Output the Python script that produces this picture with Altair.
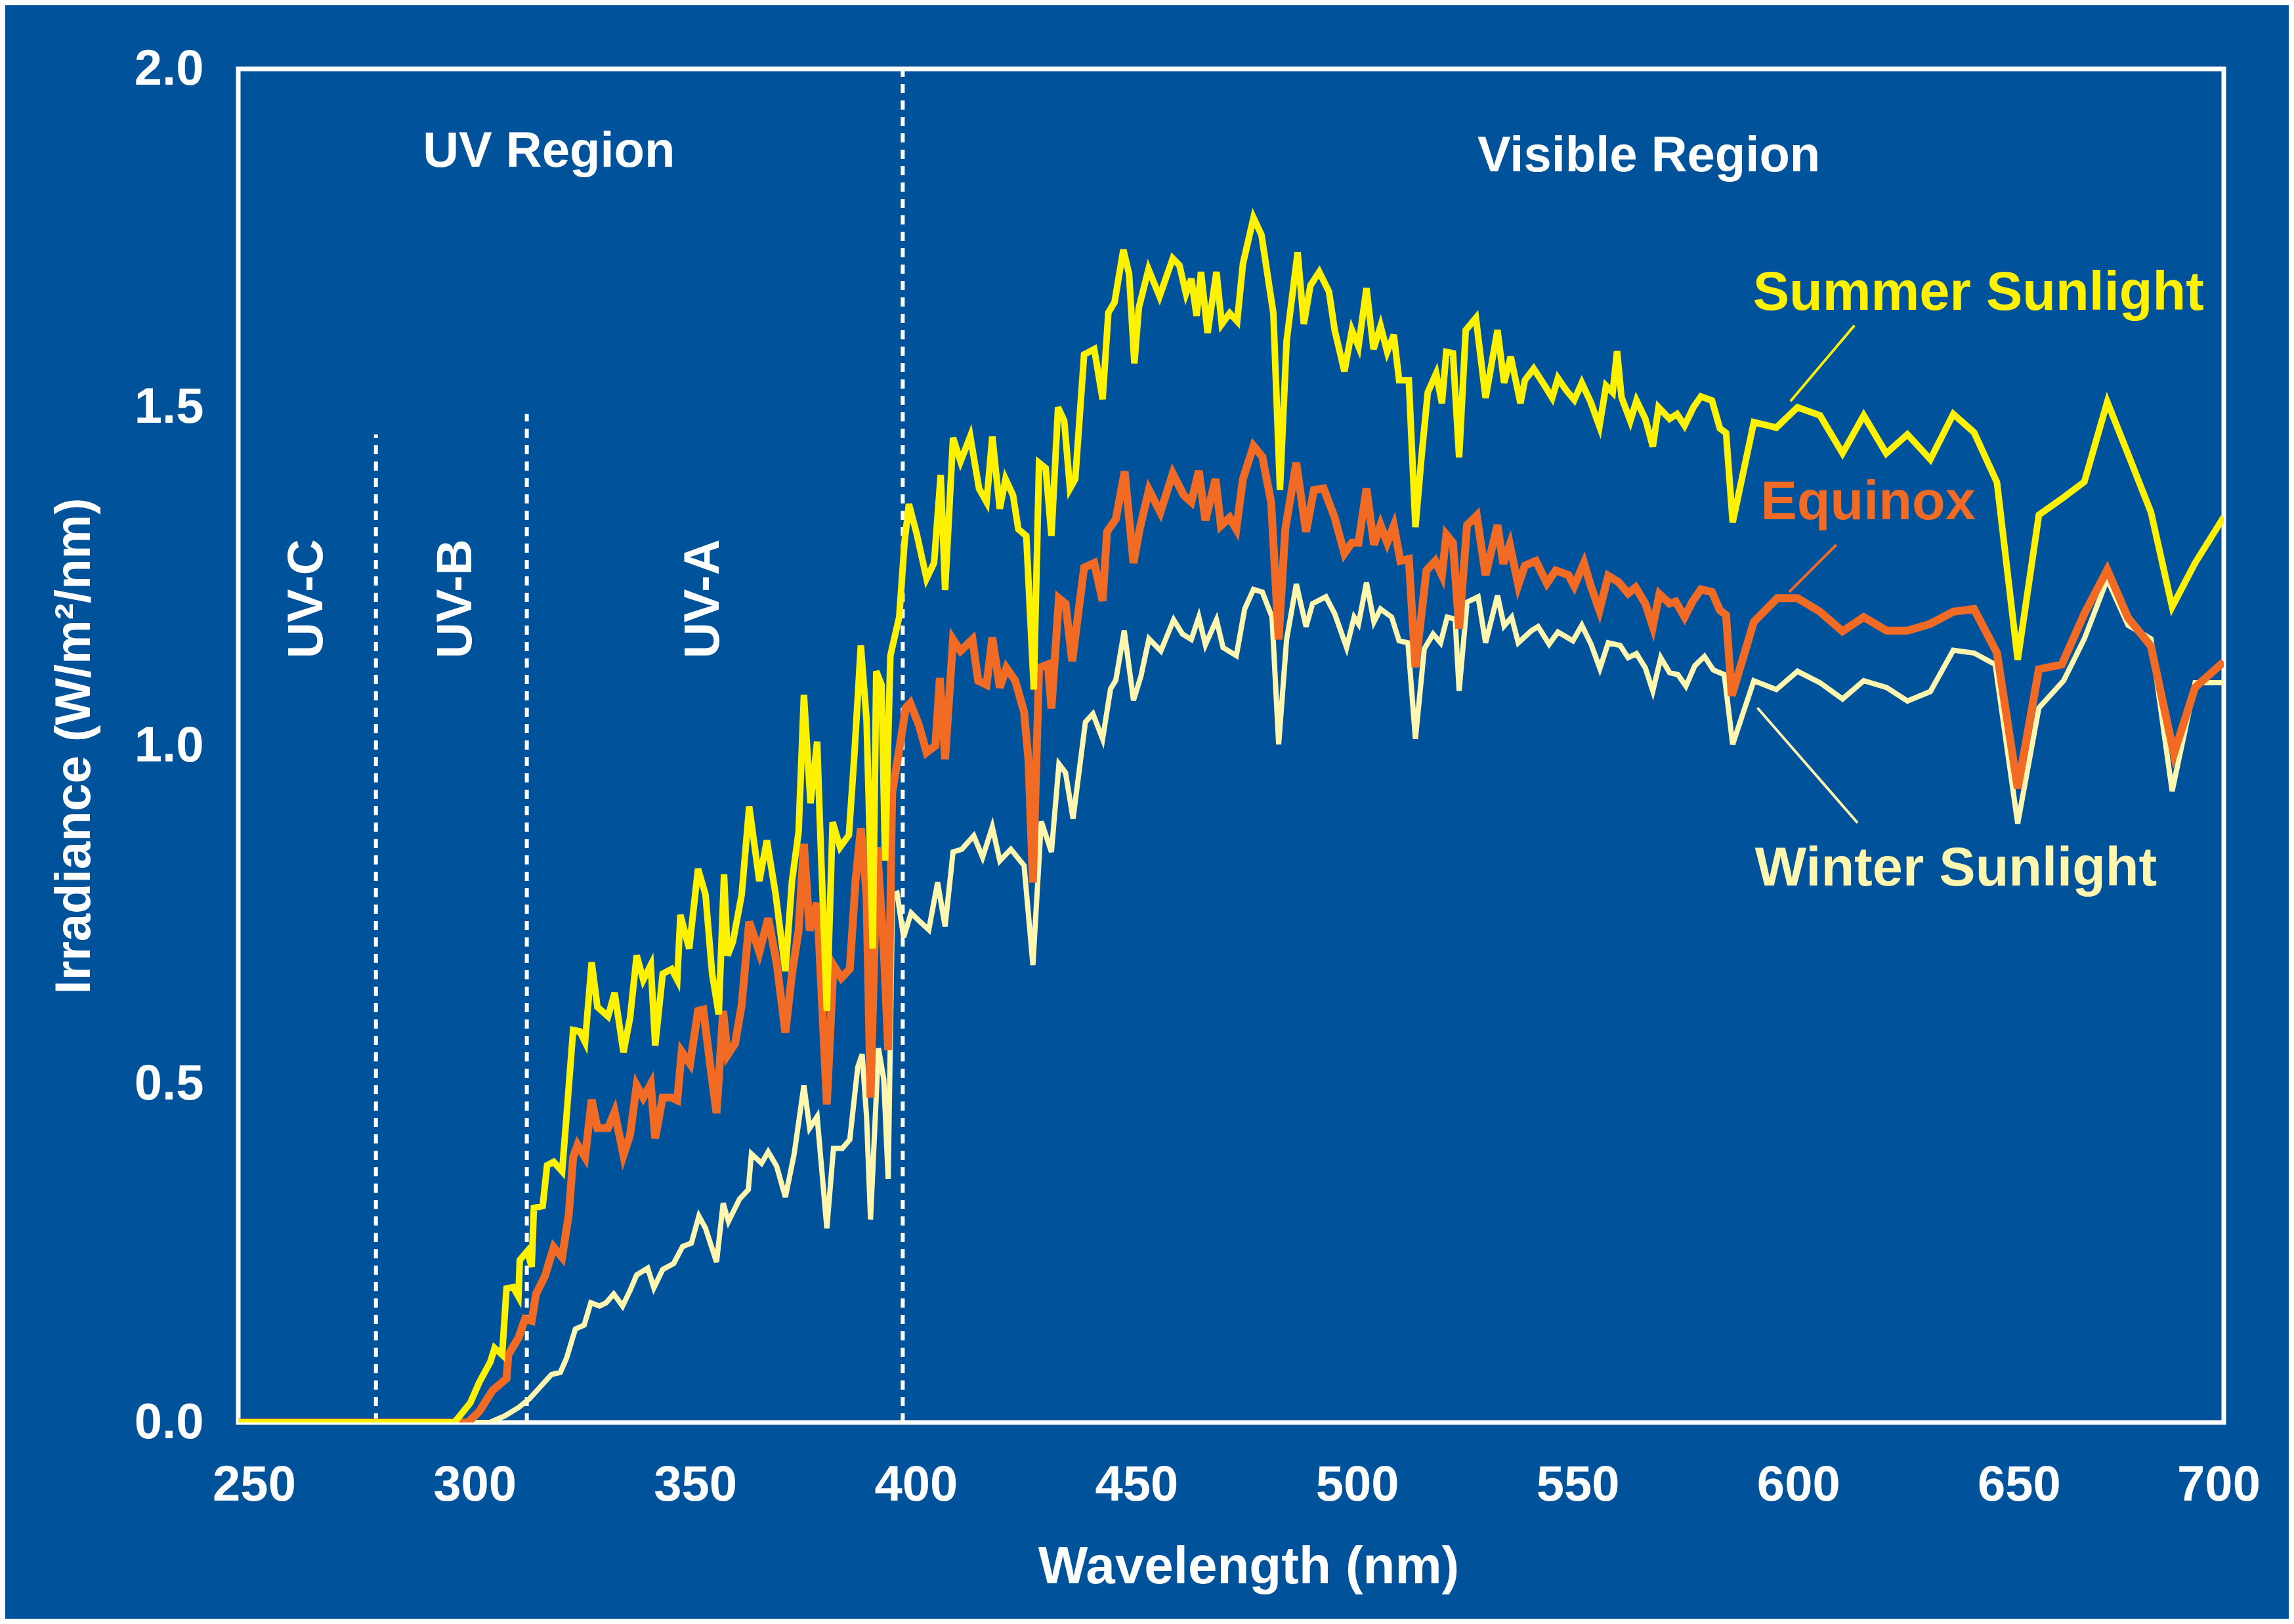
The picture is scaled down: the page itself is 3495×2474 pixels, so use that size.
import altair as alt
import pandas as pd

# ---------------- data ----------------
summer = [(250, 0), (290, 0), (299, 0.0), (302.6, 0.029), (304.6, 0.059), (307.1, 0.089), (308.1, 0.11),
          (309.8, 0.10), (310.8, 0.198), (312.3, 0.20), (313.5, 0.186), (313.8, 0.24), (315.5, 0.253),
          (316.5, 0.23), (317.0, 0.317), (319.0, 0.32), (320.0, 0.38), (321.5, 0.385), (323.4, 0.371),
          (324.4, 0.453), (325.9, 0.58), (327.4, 0.578), (328.6, 0.562), (330.1, 0.68), (331.4, 0.614),
          (333.8, 0.60), (335.3, 0.635), (337.3, 0.547), (338.8, 0.598), (340.3, 0.69), (341.8, 0.654),
          (343.5, 0.676), (344.5, 0.557), (346.2, 0.663), (348.2, 0.67), (349.5, 0.654), (350.2, 0.75),
          (352.2, 0.70), (354.2, 0.818), (355.9, 0.78), (357.4, 0.663), (358.9, 0.603), (360.1, 0.81),
          (360.9, 0.69), (362.1, 0.71), (364.1, 0.78), (365.8, 0.91), (368.1, 0.80), (369.8, 0.86),
          (371.8, 0.78), (374.0, 0.667), (375.5, 0.80), (377.0, 0.873), (378.2, 1.075), (379.7, 0.915),
          (381.2, 1.006), (381.9, 0.873), (383.4, 0.608), (384.7, 0.887), (386.4, 0.85), (388.4, 0.868),
          (389.6, 0.983), (391.1, 1.148), (392.4, 1.038), (393.8, 0.70), (394.6, 1.11), (395.8, 1.09),
          (396.6, 0.83), (397.8, 1.133), (399.8, 1.19), (401.0, 1.30), (402.0, 1.357), (403.8, 1.312),
          (406.0, 1.247), (407.7, 1.27), (409.2, 1.40), (410.2, 1.23), (412.0, 1.455), (413.7, 1.42),
          (415.9, 1.457), (417.9, 1.38), (419.6, 1.36), (420.9, 1.457), (422.6, 1.35), (423.9, 1.394),
          (425.6, 1.37), (426.8, 1.32), (428.6, 1.31), (430.3, 1.083), (431.5, 1.418), (433.0, 1.41),
          (434.3, 1.31), (435.8, 1.50), (437.2, 1.48), (438.5, 1.38), (439.7, 1.394), (441.7, 1.578),
          (444.0, 1.586), (445.9, 1.512), (447.2, 1.64), (448.6, 1.655), (450.6, 1.733), (451.9, 1.697),
          (453.1, 1.565), (454.1, 1.647), (456.3, 1.704), (458.8, 1.664), (461.8, 1.72), (463.3, 1.71),
          (464.8, 1.668), (466.0, 1.69), (467.2, 1.635), (468.2, 1.70), (469.7, 1.61), (471.7, 1.70),
          (472.9, 1.623), (474.7, 1.639), (476.4, 1.627), (477.7, 1.712), (480.1, 1.78), (481.9, 1.755),
          (484.6, 1.639), (486.1, 1.378), (487.6, 1.598), (490.1, 1.729), (491.5, 1.623), (493.0, 1.68),
          (495.0, 1.70), (497.2, 1.671), (498.5, 1.614), (500.7, 1.553), (502.4, 1.614), (503.9, 1.59),
          (505.7, 1.676), (507.3, 1.586), (508.9, 1.62), (510.4, 1.582), (511.9, 1.607), (513.1, 1.54),
          (515.3, 1.54), (516.8, 1.323), (518.3, 1.436), (519.6, 1.522), (521.5, 1.55), (522.8, 1.506),
          (523.8, 1.582), (525.3, 1.58), (526.7, 1.426), (528.2, 1.614), (530.5, 1.632), (532.7, 1.514),
          (535.4, 1.614), (536.9, 1.536), (538.4, 1.575), (540.6, 1.506), (541.6, 1.54), (543.6, 1.557),
          (546.1, 1.532), (547.8, 1.514), (549.1, 1.543), (551.0, 1.525), (552.8, 1.511), (554.5, 1.536),
          (556.5, 1.508), (558.5, 1.472), (560.0, 1.532), (561.5, 1.522), (562.5, 1.583), (563.5, 1.515),
          (565.5, 1.48), (566.9, 1.51), (568.9, 1.483), (570.6, 1.442), (571.9, 1.50), (574.4, 1.483),
          (576.1, 1.49), (577.8, 1.473), (579.8, 1.50), (581.5, 1.516), (584.0, 1.51), (585.8, 1.469),
          (587.2, 1.462), (588.7, 1.33), (593.5, 1.478), (598.6, 1.47), (603.4, 1.50), (608.5, 1.488),
          (613.6, 1.432), (618.4, 1.488), (623.5, 1.432), (628.3, 1.46), (633.5, 1.423), (638.7, 1.49),
          (643.4, 1.463), (648.6, 1.389), (653.3, 1.127), (658.1, 1.341), (663.3, 1.365), (668.4, 1.39),
          (673.6, 1.508), (678.3, 1.431), (683.5, 1.345), (688.3, 1.205), (693.5, 1.27), (700.0, 1.338)]

equinox = [(250, 0), (295, 0), (302, 0), (304.6, 0.016), (307.6, 0.047), (310.8, 0.065), (311.2, 0.10),
           (313.5, 0.125), (315, 0.153), (316.5, 0.15), (317.5, 0.19), (319.5, 0.216), (321.5, 0.259),
           (323.4, 0.244), (324.9, 0.307), (325.9, 0.392), (326.9, 0.41), (328.6, 0.392), (330.1, 0.477),
           (331.4, 0.435), (333.8, 0.435), (335.3, 0.459), (337.3, 0.395), (338.8, 0.425), (340.3, 0.498),
           (341.8, 0.48), (343.5, 0.50), (344.5, 0.42), (346.2, 0.48), (348.2, 0.48), (349.5, 0.476),
           (350.5, 0.548), (352.4, 0.53), (354.2, 0.608), (355.4, 0.61), (357.2, 0.516), (358.4, 0.457),
           (359.9, 0.608), (360.9, 0.543), (362.6, 0.56), (364.1, 0.617), (365.8, 0.74), (368.1, 0.695),
           (370.1, 0.745), (372, 0.68), (374, 0.576), (375.5, 0.663), (377, 0.727), (378.2, 0.855),
           (379.5, 0.727), (381.2, 0.768), (382.4, 0.608), (383.4, 0.47), (384.9, 0.676), (386.7, 0.657),
           (388.6, 0.67), (389.9, 0.80), (391.1, 0.878), (392.4, 0.78), (393.3, 0.48), (394.8, 0.85),
           (396.3, 0.70), (397.3, 0.55), (398.2, 0.93), (399.7, 0.99), (401.3, 1.056), (402.3, 1.063),
           (404.3, 1.03), (406, 0.99), (408, 1.00), (409, 1.10), (410.2, 0.98), (412, 1.157), (413.7, 1.14),
           (416.4, 1.157), (417.7, 1.096), (419.6, 1.09), (420.9, 1.16), (422.6, 1.086), (424.1, 1.115),
           (426.1, 1.096), (428.1, 1.05), (429.1, 0.978), (430.1, 0.798), (431.5, 1.115), (433.5, 1.12),
           (434.3, 1.055), (436, 1.218), (437.5, 1.21), (439, 1.125), (441.7, 1.263), (444, 1.27),
           (445.9, 1.214), (446.9, 1.316), (448.9, 1.335), (450.9, 1.405), (452.9, 1.27), (454.3, 1.32),
           (456.4, 1.378), (459, 1.345), (461.8, 1.402), (464.3, 1.37), (466, 1.36), (467.7, 1.406),
           (469.2, 1.333), (471.5, 1.394), (472.7, 1.325), (474.7, 1.337), (476.2, 1.32), (477.7, 1.394),
           (480.1, 1.443), (482.1, 1.427), (484.1, 1.36), (485.8, 1.157), (487.3, 1.32), (489.8, 1.418),
           (492, 1.316), (493.8, 1.378), (496, 1.38), (498.5, 1.337), (500.7, 1.284), (502.4, 1.30),
           (503.9, 1.30), (505.7, 1.38), (507.4, 1.297), (508.9, 1.326), (510.4, 1.30), (511.9, 1.325),
           (513.4, 1.273), (515.3, 1.276), (516.8, 1.116), (519.3, 1.259), (521.3, 1.273), (522.8, 1.252),
           (523.8, 1.312), (525.3, 1.30), (526.7, 1.173), (528.5, 1.326), (530.7, 1.34), (532.7, 1.252),
           (535.4, 1.326), (536.7, 1.269), (538.2, 1.297), (540.1, 1.237), (541.6, 1.266), (544.1, 1.273),
           (546.6, 1.24), (548.6, 1.259), (551.5, 1.252), (552.8, 1.236), (555, 1.27), (556.5, 1.237),
           (558.5, 1.20), (560.5, 1.251), (562.8, 1.242), (565, 1.225), (566.7, 1.234), (568.9, 1.21),
           (570.6, 1.176), (572.1, 1.224), (574.4, 1.21), (575.8, 1.213), (577.8, 1.19), (579.6, 1.213),
           (581.5, 1.231), (584, 1.227), (585.8, 1.20), (587.2, 1.193), (588.5, 1.074), (593.5, 1.183),
           (598.8, 1.218), (603.4, 1.218), (608.5, 1.198), (613.6, 1.169), (618.4, 1.19), (623.6, 1.17),
           (628.3, 1.17), (633.5, 1.18), (638.7, 1.198), (643.4, 1.202), (648.6, 1.137), (653.3, 0.937),
           (658.1, 1.113), (663.3, 1.12), (668.4, 1.195), (673.6, 1.26), (678.3, 1.189), (683.5, 1.147),
           (688.7, 0.988), (693.5, 1.086), (700, 1.124)]

winter = [(250, 0), (300, 0), (307, 0), (310.5, 0.01), (313.5, 0.022), (316, 0.035), (318.5, 0.053),
          (321, 0.071), (323, 0.074), (324.4, 0.095), (326.4, 0.138), (328.4, 0.144), (329.9, 0.177),
          (331.9, 0.172), (333.4, 0.177), (335.1, 0.19), (337.1, 0.172), (338.8, 0.195), (340.3, 0.218),
          (342.8, 0.228), (344.2, 0.199), (346.2, 0.226), (348.7, 0.235), (350.7, 0.26), (352.7, 0.265),
          (354.4, 0.305), (355.9, 0.287), (358.4, 0.237), (359.9, 0.324), (361.1, 0.297), (363.6, 0.33),
          (365.6, 0.344), (366.3, 0.397), (368.6, 0.383), (370.1, 0.40), (372, 0.379), (374, 0.333),
          (376, 0.397), (378.2, 0.498), (379.5, 0.435), (381.2, 0.452), (383.4, 0.287), (384.9, 0.405),
          (386.9, 0.405), (388.6, 0.418), (390.4, 0.525), (391.4, 0.544), (392.4, 0.452), (393.3, 0.30),
          (395.1, 0.553), (396.3, 0.507), (397.3, 0.36), (398.3, 0.78), (399.3, 0.782), (400.8, 0.717),
          (402.5, 0.753), (404.5, 0.74), (406.5, 0.728), (408.5, 0.798), (410.2, 0.733), (412, 0.843),
          (414, 0.847), (416.7, 0.867), (418.7, 0.835), (420.9, 0.88), (422.6, 0.83), (425.1, 0.847),
          (428.1, 0.823), (430.1, 0.676), (432, 0.888), (434.3, 0.843), (436, 0.973), (437.5, 0.96),
          (439.2, 0.892), (442, 1.035), (443.7, 1.047), (445.9, 1.01), (447.7, 1.084), (448.9, 1.097),
          (450.8, 1.17), (452.9, 1.067), (454.6, 1.103), (456.4, 1.158), (459.1, 1.14), (462, 1.186),
          (464, 1.165), (466, 1.157), (467.7, 1.19), (469.2, 1.149), (471.7, 1.186), (473.2, 1.145),
          (476.2, 1.133), (478.1, 1.202), (480.1, 1.231), (482.1, 1.227), (484.3, 1.19), (485.8, 1.002),
          (487.6, 1.157), (489.8, 1.239), (492, 1.176), (493.5, 1.21), (496.5, 1.22), (498.5, 1.195),
          (501.2, 1.145), (502.9, 1.19), (503.9, 1.18), (505.7, 1.241), (507.4, 1.183), (508.9, 1.202),
          (511.4, 1.19), (513.1, 1.155), (515.1, 1.152), (516.8, 1.01), (518.8, 1.143), (520.8, 1.165),
          (522.5, 1.152), (524, 1.19), (525.8, 1.187), (526.7, 1.081), (528.5, 1.212), (531, 1.22),
          (532.7, 1.152), (535.4, 1.222), (536.9, 1.177), (538.6, 1.19), (540.1, 1.152), (543.1, 1.17),
          (544.6, 1.176), (547.1, 1.15), (549.1, 1.168), (552.5, 1.155), (554.5, 1.178), (556.6, 1.15),
          (558.6, 1.114), (560.5, 1.152), (563.2, 1.148), (565, 1.13), (566.9, 1.136), (568.9, 1.115),
          (570.6, 1.081), (572.4, 1.13), (574.4, 1.108), (576.3, 1.105), (578.1, 1.088), (580.1, 1.118),
          (582.3, 1.132), (584.3, 1.112), (586.8, 1.105), (588.7, 1.002), (593.5, 1.096), (598.6, 1.083),
          (603.4, 1.11), (608.5, 1.093), (613.6, 1.069), (618.4, 1.096), (623.6, 1.086), (628.3, 1.066),
          (633.5, 1.08), (638.7, 1.141), (643.4, 1.137), (648.2, 1.12), (653.3, 0.885), (658.1, 1.056),
          (663.7, 1.096), (668.4, 1.158), (673.6, 1.246), (678.3, 1.178), (683.5, 1.158), (688.3, 0.933),
          (693.5, 1.093), (700, 1.093)]

x_ticks = [250, 300, 350, 400, 450, 500, 550, 600, 650, 700]
y_ticks = [0.0, 0.5, 1.0, 1.5, 2.0]

# dashed boundaries: wavelength, top value
boundaries = [(281.2, 1.46), (315.4, 1.49), (400.6, 2.0)]
region_labels = [("UV Region", 320.4, 1.855), ("Visible Region", 569.7, 1.849)]
band_labels = [("UV-C", 265.6, 1.217), ("UV-B", 299.4, 1.217), ("UV-A", 355.5, 1.217)]
series_labels = [("Summer Sunlight", 644.4, 1.644), ("Equinox", 619.4, 1.335), ("Winter Sunlight", 639.3, 0.793)]
leaders = [(601.8, 1.509, 616.3, 1.621), (601.5, 1.227, 612.2, 1.297), (594.3, 1.056, 617.0, 0.886)]

# ---------------- styling ----------------
BG = "#00529B"
YELLOW = "#FFF200"
ORANGE = "#F26B24"
PALE = "#FFF6B0"
WHITE = "#FFFFFF"
FONT = "Liberation Sans"
FS = 76

x_scale = alt.Scale(domain=[250, 700], nice=False, zero=False)
y_scale = alt.Scale(domain=[0, 2], nice=False)

x_axis = alt.Axis(values=x_ticks, title="Wavelength (nm)", ticks=False, domain=False, grid=False,
                  labelFlush=False, labelPadding=58, labelFontSize=FS, labelFont=FONT,
                  labelFontWeight="bold", labelColor=WHITE,
                  labelOffset={"condition": {"test": "datum.value == 700", "value": -8}, "value": 24},
                  titleFontSize=80, titleFont=FONT, titleFontWeight="bold", titleColor=WHITE,
                  titleX=1539, titleY=220, titleBaseline="middle", titleAlign="center")
y_axis = alt.Axis(values=y_ticks, format=".1f", title="Irradiance (W/m²/nm)", ticks=False, domain=False,
                  grid=False, labelPadding=53, labelFontSize=FS, labelFont=FONT, labelFontWeight="bold",
                  labelColor=WHITE, titleFontSize=FS, titleFont=FONT, titleFontWeight="bold",
                  titleColor=WHITE, titleX=-250, titleY=1031, titleBaseline="middle", titleAlign="center",
                  titleAngle=270)


def X(field="wl"):
    return alt.X(f"{field}:Q", scale=x_scale, axis=x_axis)


def Y(field="val"):
    return alt.Y(f"{field}:Q", scale=y_scale, axis=y_axis)


def series_df(points):
    return pd.DataFrame(points, columns=["wl", "val"])


def line_layer(points, color, width):
    return alt.Chart(series_df(points)).mark_line(color=color, strokeWidth=width, strokeJoin="miter",
                                                   clip=True).encode(x=X(), y=Y(), order="wl:Q")


bdf = pd.DataFrame([(w, 0.0, t) for w, t in boundaries], columns=["wl", "val", "top"])
dashed = alt.Chart(bdf).mark_rule(color=WHITE, strokeWidth=6, strokeDash=[14, 11]).encode(
    x=X(), y=Y(), y2="top:Q")

regions = alt.Chart(pd.DataFrame(region_labels, columns=["text", "wl", "val"])).mark_text(
    font=FONT, fontSize=FS, fontWeight="bold", color=WHITE, align="center", baseline="alphabetic"
).encode(x=X(), y=Y(), text="text:N")

bands = alt.Chart(pd.DataFrame(band_labels, columns=["text", "wl", "val"])).mark_text(
    font=FONT, fontSize=FS, fontWeight="bold", color=WHITE, align="center", baseline="middle", angle=270
).encode(x=X(), y=Y(), text="text:N")

label_colors = [YELLOW, ORANGE, PALE]
sl = []
for (txt, w, v), c in zip(series_labels, label_colors):
    sl.append(alt.Chart(pd.DataFrame([(txt, w, v)], columns=["text", "wl", "val"])).mark_text(
        font=FONT, fontSize=83, fontWeight="bold", color=c, align="center", baseline="alphabetic"
    ).encode(x=X(), y=Y(), text="text:N"))

ll = []
for (x1, y1, x2, y2), c in zip(leaders, label_colors):
    ll.append(alt.Chart(pd.DataFrame([(x1, y1, x2, y2)], columns=["wl", "val", "wl2", "val2"])).mark_rule(
        color=c, strokeWidth=4).encode(x=X(), y=Y(), x2="wl2:Q", y2="val2:Q"))

chart = alt.layer(
    dashed,
    line_layer(winter, PALE, 8),
    line_layer(equinox, ORANGE, 12),
    line_layer(summer, YELLOW, 10),
    regions, bands, *sl, *ll,
).properties(
    width=3025, height=2062,
    autosize=alt.AutoSizeParams(type="none"),
    padding={"left": 355, "top": 97, "right": 99, "bottom": 299},
    background=BG,
).configure_view(stroke=WHITE, strokeWidth=7)

chart.save("out.html", embed_options={"renderer": "svg", "actions": False})
